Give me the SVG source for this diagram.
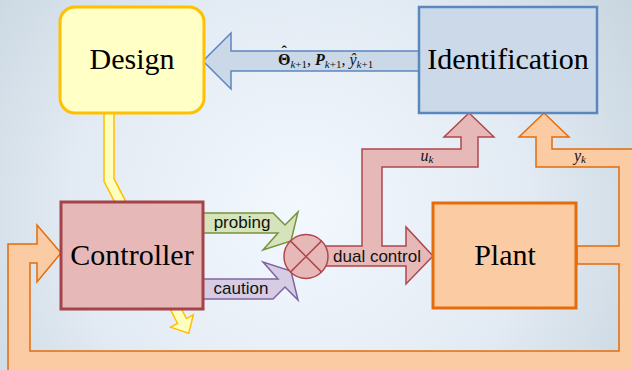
<svg xmlns="http://www.w3.org/2000/svg" width="632" height="370" viewBox="0 0 632 370">
<defs>
<radialGradient id="bg" cx="300" cy="210" r="420" gradientUnits="userSpaceOnUse">
<stop offset="0" stop-color="#f3f8fe"/>
<stop offset="0.55" stop-color="#e2eaf3"/>
<stop offset="1" stop-color="#c3d2dc"/>
</radialGradient>
</defs>
<style>
.box{stroke-width:3}
.big{font-size:30px;fill:#000;text-anchor:middle}
.lbl{font-size:17px;fill:#111;text-anchor:middle}
.math{font-size:16px;fill:#111}
.sub{font-size:11px}
.arr{stroke-width:1.5;stroke-linejoin:miter}
</style>
<rect width="632" height="370" fill="url(#bg)"/>
<g id="connectors">
<polygon class="arr" fill="#fbcba3" stroke="#e46c0a" points="577,246 619,246 619,167 536,167 536,137 519,137 544,113 569,137 552,137 552,149 650,149 650,380 8,380 8,244 37,244 37,225 61,253 37,282 37,263 30,263 30,351 619,351 619,264 577,264"/>
<polygon class="arr" fill="#e6b9b8" stroke="#b0474c" points="310,246 362,246 362,149 461,149 461,137 444,137 469,113 494,137 478,137 478,167 382,167 382,246 406,246 406,227 433,256 406,284 406,266 310,266"/>
<polygon class="arr" fill="#cad8e7" stroke="#5b87bf" points="419,51 231,51 231,33 203,61 231,89 231,71 419,71"/>
<polygon class="arr" fill="#ffffc0" stroke="#ffc000" points="104,113 114,113 114,178.7 186.4,318.6 193.4,314.8 188.7,333.3 170.6,327.2 177.6,323.4 104,181.3"/>
<polygon class="arr" fill="#d5e4ba" stroke="#77933c" points="203,213 273,213 285,225 298,212 291,241 263,250 278,233 203,233"/>
<polygon class="arr" fill="#d6cce3" stroke="#8064a2" points="203,299 273,299 285,287 298,300 291,271 263,262 278,279 203,279"/>
<text class="lbl" font-family="Liberation Sans, Arial, sans-serif" x="242" y="228">probing</text>
<text class="lbl" font-family="Liberation Sans, Arial, sans-serif" x="241" y="294">caution</text>
<text class="lbl" font-family="Liberation Sans, Arial, sans-serif" x="377" y="262">dual control</text>
<text class="math" font-family="Liberation Serif, DejaVu Serif, serif" x="278" y="65"><tspan font-weight="bold">Θ</tspan><tspan font-weight="bold" dx="-9" dy="-8">ˆ</tspan><tspan class="sub" dx="3.7" dy="11" font-style="italic">k</tspan><tspan class="sub">+1</tspan><tspan dy="-3">, </tspan><tspan font-weight="bold" font-style="italic">P</tspan><tspan class="sub" dy="3" font-style="italic">k</tspan><tspan class="sub">+1</tspan><tspan dy="-3">, </tspan><tspan font-style="italic">ŷ</tspan><tspan class="sub" dy="3" font-style="italic">k</tspan><tspan class="sub">+1</tspan></text>
<text class="math" font-family="Liberation Serif, DejaVu Serif, serif" x="427" y="161" text-anchor="middle"><tspan font-style="italic">u</tspan><tspan class="sub" dy="2" font-style="italic">k</tspan></text>
<text class="math" font-family="Liberation Serif, DejaVu Serif, serif" x="580" y="161" text-anchor="middle"><tspan font-style="italic">y</tspan><tspan class="sub" dy="2" font-style="italic">k</tspan></text>
</g>
<g id="sum">
<circle cx="306" cy="256.5" r="22" fill="#e6b9b8" stroke="#b0474c" stroke-width="1.5"/>
<path d="M290.4,240.9 L321.6,272.1 M321.6,240.9 L290.4,272.1" stroke="#b0474c" stroke-width="1.5" fill="none"/>
</g>
<g id="design">
<rect class="box" x="60" y="7" width="144" height="106" rx="15" fill="#ffffc6" stroke="#ffc000"/>
<text class="big" font-family="Liberation Serif, DejaVu Serif, serif" x="132" y="69">Design</text>
</g>
<g id="identification">
<rect x="419" y="7" width="178" height="106" fill="#cbd9e8" stroke="#5b87bf" stroke-width="2.5"/>
<text class="big" font-family="Liberation Serif, DejaVu Serif, serif" x="508" y="69">Identification</text>
</g>
<g id="controller">
<rect class="box" x="61" y="202" width="142" height="107" fill="#e6b9b8" stroke="#a4434a"/>
<text class="big" font-family="Liberation Serif, DejaVu Serif, serif" x="132" y="265">Controller</text>
</g>
<g id="plant">
<rect class="box" x="433" y="203" width="143" height="105" fill="#fbcba3" stroke="#e46c0a"/>
<text class="big" font-family="Liberation Serif, DejaVu Serif, serif" x="505" y="265">Plant</text>
</g>
</svg>
